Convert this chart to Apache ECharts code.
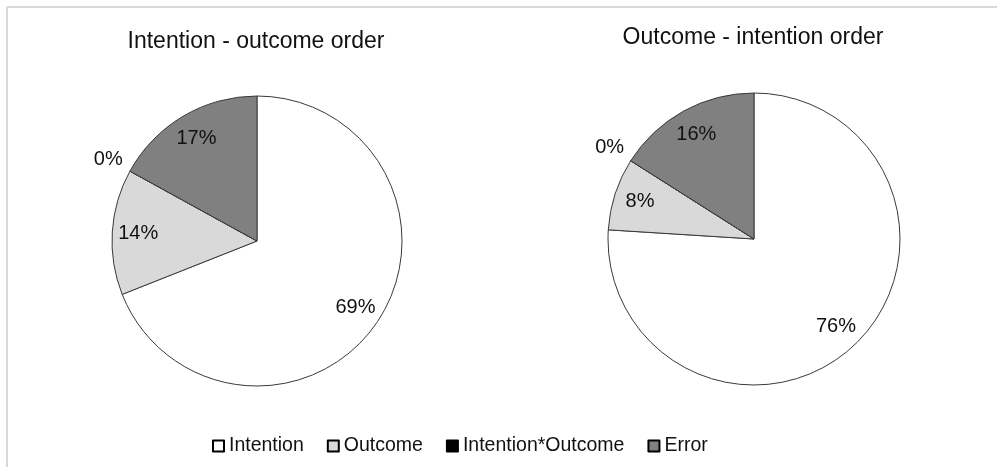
<!DOCTYPE html>
<html>
<head>
<meta charset="utf-8">
<script src="https://cdn.jsdelivr.net/npm/echarts@6/dist/echarts.min.js"></script>
<style>
  html, body { margin: 0; padding: 0; background: #fff; }
  #chart { width: 997px; height: 467px; }
</style>
</head>
<body>
<div id="chart"></div>
<script>
// Share of variance per component, in percent
const categories = ['Intention', 'Outcome', 'Intention*Outcome', 'Error'];
const intentionOutcomeOrder = [69, 14, 0, 17];
const outcomeIntentionOrder = [76, 8, 0, 16];
const panelTitles = ['Intention - outcome order', 'Outcome - intention order'];

const sliceColors = ['#ffffff', '#d9d9d9', '#000000', '#808080'];
const FONT = '"Liberation Sans", Arial, sans-serif';

// Visible pie for one panel
function pieSeries(values, center, r) {
  return {
    type: 'pie',
    center: center,
    radius: [0, r],
    startAngle: 90,
    clockwise: true,
    avoidLabelOverlap: false,
    label: { show: false },
    labelLine: { show: false },
    emphasis: { disabled: true },
    data: categories.map((name, i) => ({
      name: name,
      value: values[i],
      itemStyle: { color: sliceColors[i], borderColor: '#3a3a3a', borderWidth: 1 }
    }))
  };
}

// Transparent ring that only carries percentage labels at its mid radius
function labelRing(values, center, r0, r1, showFn) {
  return {
    type: 'pie',
    center: center,
    radius: [r0, r1],
    startAngle: 90,
    clockwise: true,
    silent: true,
    avoidLabelOverlap: false,
    emphasis: { disabled: true },
    labelLine: { show: false },
    itemStyle: { color: 'rgba(0,0,0,0)', borderWidth: 0 },
    data: categories.map((name, i) => ({
      name: name,
      value: values[i],
      label: {
        show: showFn(values[i]),
        position: 'inside',
        formatter: values[i] + '%',
        color: '#111',
        fontSize: 20,
        fontFamily: FONT
      }
    }))
  };
}

const panels = [
  { values: intentionOutcomeOrder, center: [257, 241], r: 145, titleX: 251, titleY: 25 },
  { values: outcomeIntentionOrder, center: [754, 239], r: 146, titleX: 748, titleY: 21 }
];

const series = [];
panels.forEach(p => series.push(pieSeries(p.values, p.center, p.r)));
panels.forEach(p => {
  series.push(labelRing(p.values, p.center, p.r * 0.6, p.r, v => v > 0));
  series.push(labelRing(p.values, p.center, p.r * 1.02, p.r * 1.28, v => v === 0));
});

const chart = echarts.init(document.getElementById('chart'), null, { renderer: 'canvas' });
chart.setOption({
  animation: false,
  backgroundColor: '#ffffff',
  title: panels.map((p, i) => ({
    text: panelTitles[i],
    left: p.titleX,
    top: p.titleY,
    textAlign: 'center',
    textStyle: { fontSize: 23, fontWeight: 'normal', color: '#111', fontFamily: FONT }
  })),
  legend: {
    data: categories,
    left: 207,
    top: 431,
    icon: 'rect',
    itemWidth: 11,
    itemHeight: 11,
    itemGap: 23,
    itemStyle: { borderColor: '#000', borderWidth: 2 },
    textStyle: { fontSize: 19.5, color: '#111', fontFamily: FONT }
  },
  graphic: [
    { type: 'line', shape: { x1: 7, y1: 7, x2: 997, y2: 7 }, style: { stroke: '#d9d9d9', lineWidth: 2 } },
    { type: 'line', shape: { x1: 7, y1: 7, x2: 7, y2: 467 }, style: { stroke: '#d9d9d9', lineWidth: 2 } }
  ],
  series: series
});
</script>
</body>
</html>
